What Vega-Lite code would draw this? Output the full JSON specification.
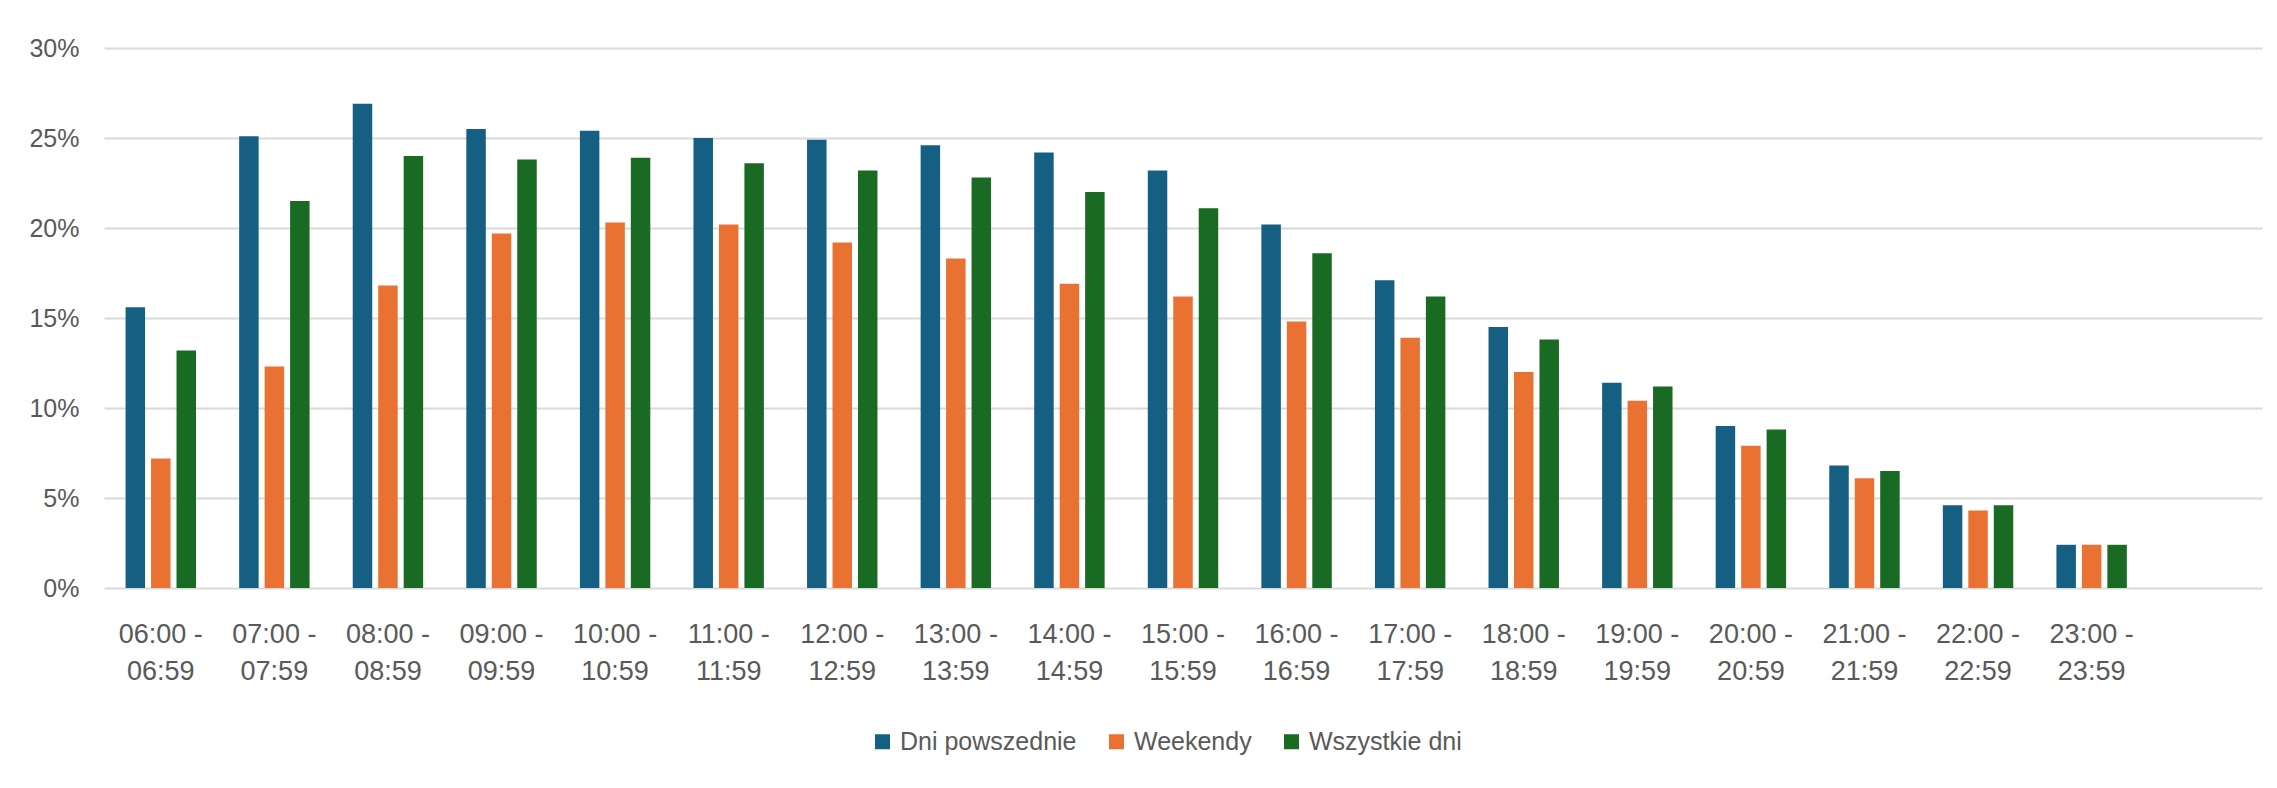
{
  "$schema": "https://vega.github.io/schema/vega-lite/v6.json",
  "width": 2158,
  "height": 540,
  "autosize": {"type": "none"},
  "padding": {"left": 104, "top": 48, "right": 15, "bottom": 200},
  "background": "white",
  "config": {
    "view": {"stroke": null},
    "font": "Liberation Sans",
    "axis": {"labelFont": "Liberation Sans", "labelColor": "#595959"},
    "legend": {"labelFont": "Liberation Sans", "labelColor": "#595959"}
  },
  "data": {
    "values": [
      {"hour": "06:00 -|06:59", "series": "Dni powszednie", "value": 0.156},
      {"hour": "06:00 -|06:59", "series": "Weekendy", "value": 0.072},
      {"hour": "06:00 -|06:59", "series": "Wszystkie dni", "value": 0.132},
      {"hour": "07:00 -|07:59", "series": "Dni powszednie", "value": 0.251},
      {"hour": "07:00 -|07:59", "series": "Weekendy", "value": 0.123},
      {"hour": "07:00 -|07:59", "series": "Wszystkie dni", "value": 0.215},
      {"hour": "08:00 -|08:59", "series": "Dni powszednie", "value": 0.269},
      {"hour": "08:00 -|08:59", "series": "Weekendy", "value": 0.168},
      {"hour": "08:00 -|08:59", "series": "Wszystkie dni", "value": 0.240},
      {"hour": "09:00 -|09:59", "series": "Dni powszednie", "value": 0.255},
      {"hour": "09:00 -|09:59", "series": "Weekendy", "value": 0.197},
      {"hour": "09:00 -|09:59", "series": "Wszystkie dni", "value": 0.238},
      {"hour": "10:00 -|10:59", "series": "Dni powszednie", "value": 0.254},
      {"hour": "10:00 -|10:59", "series": "Weekendy", "value": 0.203},
      {"hour": "10:00 -|10:59", "series": "Wszystkie dni", "value": 0.239},
      {"hour": "11:00 -|11:59", "series": "Dni powszednie", "value": 0.250},
      {"hour": "11:00 -|11:59", "series": "Weekendy", "value": 0.202},
      {"hour": "11:00 -|11:59", "series": "Wszystkie dni", "value": 0.236},
      {"hour": "12:00 -|12:59", "series": "Dni powszednie", "value": 0.249},
      {"hour": "12:00 -|12:59", "series": "Weekendy", "value": 0.192},
      {"hour": "12:00 -|12:59", "series": "Wszystkie dni", "value": 0.232},
      {"hour": "13:00 -|13:59", "series": "Dni powszednie", "value": 0.246},
      {"hour": "13:00 -|13:59", "series": "Weekendy", "value": 0.183},
      {"hour": "13:00 -|13:59", "series": "Wszystkie dni", "value": 0.228},
      {"hour": "14:00 -|14:59", "series": "Dni powszednie", "value": 0.242},
      {"hour": "14:00 -|14:59", "series": "Weekendy", "value": 0.169},
      {"hour": "14:00 -|14:59", "series": "Wszystkie dni", "value": 0.220},
      {"hour": "15:00 -|15:59", "series": "Dni powszednie", "value": 0.232},
      {"hour": "15:00 -|15:59", "series": "Weekendy", "value": 0.162},
      {"hour": "15:00 -|15:59", "series": "Wszystkie dni", "value": 0.211},
      {"hour": "16:00 -|16:59", "series": "Dni powszednie", "value": 0.202},
      {"hour": "16:00 -|16:59", "series": "Weekendy", "value": 0.148},
      {"hour": "16:00 -|16:59", "series": "Wszystkie dni", "value": 0.186},
      {"hour": "17:00 -|17:59", "series": "Dni powszednie", "value": 0.171},
      {"hour": "17:00 -|17:59", "series": "Weekendy", "value": 0.139},
      {"hour": "17:00 -|17:59", "series": "Wszystkie dni", "value": 0.162},
      {"hour": "18:00 -|18:59", "series": "Dni powszednie", "value": 0.145},
      {"hour": "18:00 -|18:59", "series": "Weekendy", "value": 0.120},
      {"hour": "18:00 -|18:59", "series": "Wszystkie dni", "value": 0.138},
      {"hour": "19:00 -|19:59", "series": "Dni powszednie", "value": 0.114},
      {"hour": "19:00 -|19:59", "series": "Weekendy", "value": 0.104},
      {"hour": "19:00 -|19:59", "series": "Wszystkie dni", "value": 0.112},
      {"hour": "20:00 -|20:59", "series": "Dni powszednie", "value": 0.090},
      {"hour": "20:00 -|20:59", "series": "Weekendy", "value": 0.079},
      {"hour": "20:00 -|20:59", "series": "Wszystkie dni", "value": 0.088},
      {"hour": "21:00 -|21:59", "series": "Dni powszednie", "value": 0.068},
      {"hour": "21:00 -|21:59", "series": "Weekendy", "value": 0.061},
      {"hour": "21:00 -|21:59", "series": "Wszystkie dni", "value": 0.065},
      {"hour": "22:00 -|22:59", "series": "Dni powszednie", "value": 0.046},
      {"hour": "22:00 -|22:59", "series": "Weekendy", "value": 0.043},
      {"hour": "22:00 -|22:59", "series": "Wszystkie dni", "value": 0.046},
      {"hour": "23:00 -|23:59", "series": "Dni powszednie", "value": 0.024},
      {"hour": "23:00 -|23:59", "series": "Weekendy", "value": 0.024},
      {"hour": "23:00 -|23:59", "series": "Wszystkie dni", "value": 0.024}
    ]
  },
  "mark": {"type": "bar"},
  "encoding": {
    "x": {
      "field": "hour",
      "type": "nominal",
      "sort": null,
      "scale": {
        "domain": ["06:00 -|06:59", "07:00 -|07:59", "08:00 -|08:59", "09:00 -|09:59", "10:00 -|10:59", "11:00 -|11:59", "12:00 -|12:59", "13:00 -|13:59", "14:00 -|14:59", "15:00 -|15:59", "16:00 -|16:59", "17:00 -|17:59", "18:00 -|18:59", "19:00 -|19:59", "20:00 -|20:59", "21:00 -|21:59", "22:00 -|22:59", "23:00 -|23:59", " "],
        "paddingInner": 0.38,
        "paddingOuter": 0.19
      },
      "axis": {
        "title": null,
        "labelAngle": 0,
        "labelExpr": "split(datum.value, '|')",
        "labelFontSize": 27,
        "labelLineHeight": 37,
        "labelPadding": 33,
        "ticks": false,
        "domain": false,
        "grid": false
      }
    },
    "xOffset": {
      "field": "series",
      "type": "nominal",
      "sort": ["Dni powszednie", "Weekendy", "Wszystkie dni"],
      "scale": {"paddingInner": 0.235, "paddingOuter": 0}
    },
    "y": {
      "field": "value",
      "type": "quantitative",
      "scale": {"domain": [0, 0.3], "nice": false},
      "axis": {
        "title": null,
        "values": [0, 0.05, 0.1, 0.15, 0.2, 0.25, 0.3],
        "format": ".0%",
        "labelFontSize": 25,
        "labelPadding": 25,
        "ticks": false,
        "domain": false,
        "gridColor": "#d9d9d9",
        "gridWidth": 2
      }
    },
    "color": {
      "field": "series",
      "type": "nominal",
      "sort": ["Dni powszednie", "Weekendy", "Wszystkie dni"],
      "scale": {
        "domain": ["Dni powszednie", "Weekendy", "Wszystkie dni"],
        "range": ["#156082", "#E97132", "#196B24"]
      },
      "legend": {
        "title": null,
        "orient": "none",
        "direction": "horizontal",
        "legendX": 766,
        "legendY": 681,
        "symbolType": "square",
        "symbolSize": 225,
        "symbolStrokeWidth": 0,
        "labelFontSize": 25,
        "labelLimit": 500,
        "labelOffset": 5,
        "columnPadding": 27
      }
    }
  }
}
